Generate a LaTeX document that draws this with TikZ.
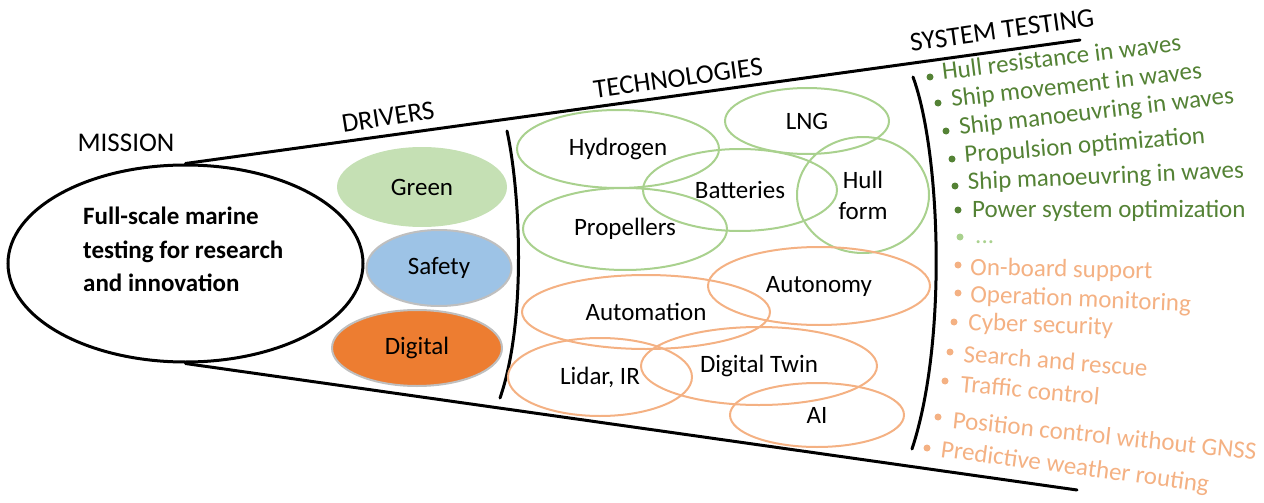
\documentclass[tikz,border=0pt]{standalone}
\usepackage{fontspec}
\setmainfont{Carlito}
\usetikzlibrary{shapes.geometric}
\definecolor{leafgreen}{HTML}{548235}
\definecolor{palegreen}{HTML}{A9D18E}
\definecolor{fillgreen}{HTML}{C5E0B4}
\definecolor{skyblue}{HTML}{9DC3E6}
\definecolor{deeporange}{HTML}{ED7D31}
\definecolor{peach}{HTML}{F4B183}
\definecolor{rimgray}{HTML}{BFBFBF}

\begin{document}
\begin{tikzpicture}[x=1pt,y=-1pt,
  every node/.style={font=\fontsize{25}{30}\selectfont},
  frame/.style={line width=3pt, line cap=round},
  heading/.style={inner sep=0pt, font=\fontsize{27}{32}\selectfont},
  driver/.style={ellipse, inner sep=0pt},
  techgreen/.style={ellipse, draw=palegreen, line width=2pt, inner sep=0pt},
  techorange/.style={ellipse, draw=peach, line width=2pt, inner sep=0pt},
  missionline/.style={anchor=base west, inner sep=0pt, font=\bfseries\fontsize{25}{30}\selectfont},
  item/.style={anchor=base west, inner sep=0pt},
  dot/.style={circle, fill=#1, inner sep=0pt, minimum size=7pt},
]
\useasboundingbox (0,0) rectangle (1264,503);

% funnel outline
\node[ellipse, draw, line width=3pt, minimum width=355pt, minimum height=197pt] (mission) at (185.5,263.5) {};
\coordinate (topend) at (1080,40);
\coordinate (botend) at (1077,490);
\draw[frame] (mission.north) -- (topend);
\draw[frame] (mission.south) -- (botend);

% stage separators
\coordinate (sepAtop) at (507,131);
\coordinate (sepAbot) at (500,398);
\coordinate (sepBtop) at (913,77);
\coordinate (sepBbot) at (912,449);
\draw[frame] (sepAtop) .. controls (520,190) and (527,320) .. (sepAbot);
\draw[frame] (sepBtop) .. controls (940,150) and (948,340) .. (sepBbot);

% headings
\node[heading] (hmission) at (126,143) {MISSION};
\node[heading, rotate=9] (hdrivers) at (388,117) {DRIVERS};
\node[heading, rotate=8] (htech) at (678,78) {TECHNOLOGIES};
\node[heading, rotate=8] (hsystem) at (1002,30) {SYSTEM TESTING};

% mission statement
\node[missionline] (mtext1) at (83,224) {Full-scale marine};
\node[missionline] (mtext2) at (83,258) {testing for research};
\node[missionline] (mtext3) at (83,291) {and innovation};

% drivers
\node[driver, fill=fillgreen, minimum width=170pt, minimum height=80pt] (green) at (422,187) {Green};
\node[driver, fill=skyblue, draw=rimgray, line width=2pt, minimum width=145pt, minimum height=76pt] (safety) at (439,268) {Safety};
\node[driver, fill=deeporange, draw=rimgray, line width=2pt, minimum width=170pt, minimum height=76pt] (digital) at (417,348) {Digital};

% green technologies
\node[techgreen, minimum width=202pt, minimum height=78pt] (hydrogen) at (618,149) {Hydrogen};
\node[techgreen, minimum width=204pt, minimum height=82pt] (propellers) at (625,229) {Propellers};
\node[techgreen, minimum width=194pt, minimum height=82pt] (batteries) at (740,190) {Batteries};
\node[techgreen, minimum width=164pt, minimum height=66pt] (lng) at (807,121) {LNG};
\node[techgreen, minimum width=132pt, minimum height=116pt, align=center, font=\fontsize{25}{31}\selectfont] (hull) at (863,195) {Hull\\form};

% orange technologies
\node[techorange, minimum width=248pt, minimum height=74pt] (automation) at (646,312) {Automation};
\node[techorange, minimum width=222pt, minimum height=78pt] (autonomy) at (819,286) {Autonomy};
\node[techorange, minimum width=184pt, minimum height=78pt] (lidar) at (600,377) {Lidar, IR};
\node[techorange, minimum width=236pt, minimum height=78pt] (twin) at (759,366) {Digital Twin};
\node[techorange, minimum width=174pt, minimum height=64pt] (ai) at (817,415) {AI};

% system testing: green items
\node[dot=leafgreen] (b1) at (930,77) {};
\node[item, text=leafgreen, rotate=7] (s1) at (943,80) {Hull resistance in waves};
\node[dot=leafgreen] (b2) at (938,103) {};
\node[item, text=leafgreen, rotate=6.5] (s2) at (952,107) {Ship movement in waves};
\node[dot=leafgreen] (b3) at (946,131) {};
\node[item, text=leafgreen, rotate=6.6] (s3) at (960,135) {Ship manoeuvring in waves};
\node[dot=leafgreen] (b4) at (952,159) {};
\node[item, text=leafgreen, rotate=4.7] (s4) at (965,163) {Propulsion optimization};
\node[dot=leafgreen] (b5) at (955,186) {};
\node[item, text=leafgreen, rotate=2.5] (s5) at (968,190) {Ship manoeuvring in waves};
\node[dot=leafgreen] (b6) at (958,210) {};
\node[item, text=leafgreen] (s6) at (972,217) {Power system optimization};
\node[dot=palegreen] (b7) at (960,237) {};
\node[item, text=palegreen] (s7) at (975,243) {...};

% system testing: orange items
\node[dot=peach] (b8) at (958,265) {};
\node[item, text=peach, rotate=-1.2] (s8) at (970,275) {On-board support};
\node[dot=peach] (b9) at (958,293) {};
\node[item, text=peach, rotate=-2.5] (s9) at (970,302) {Operation monitoring};
\node[dot=peach] (b10) at (954,322) {};
\node[item, text=peach, rotate=-2] (s10) at (968,330) {Cyber security};
\node[dot=peach] (b11) at (950,352) {};
\node[item, text=peach, rotate=-4.6] (s11) at (963,362) {Search and rescue};
\node[dot=peach] (b12) at (945,381) {};
\node[item, text=peach, rotate=-5.2] (s12) at (960,392) {Traffic control};
\node[dot=peach] (b13) at (938,417) {};
\node[item, text=peach, rotate=-6] (s13) at (952,428) {Position control without GNSS};
\node[dot=peach] (b14) at (927,448) {};
\node[item, text=peach, rotate=-7.5] (s14) at (940,457) {Predictive weather routing};

\end{tikzpicture}
\end{document}
